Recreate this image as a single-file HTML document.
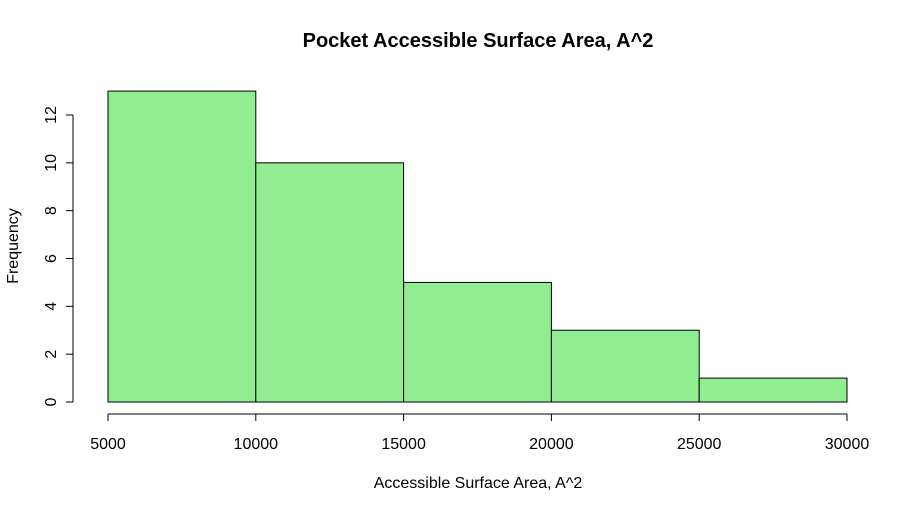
<!DOCTYPE html>
<html><head><meta charset="utf-8"><style>body{margin:0;background:#fff}svg{display:block;font-family:"Liberation Sans",sans-serif}</style></head>
<body>
<svg id="chart" width="917" height="513" viewBox="0 0 917 513">
<rect width="917" height="513" fill="#fff"/>
<text x="478" y="47" text-anchor="middle" font-size="20" font-weight="bold">Pocket Accessible Surface Area, A^2</text>
<text x="478" y="488" text-anchor="middle" font-size="16">Accessible Surface Area, A^2</text>
<text transform="translate(18,246) rotate(-90)" text-anchor="middle" font-size="16">Frequency</text>
<g id="bars"></g><g id="xaxis"></g><g id="yaxis"></g>
</svg>
<script>
const binEdges=[5000,10000,15000,20000,25000,30000];
const counts=[13,10,5,3,1];
const xTicks=[5000,10000,15000,20000,25000,30000];
const yTicks=[0,2,4,6,8,10,12];
const NS="http://www.w3.org/2000/svg";
const xs=v=>108+(v-5000)*(847-108)/25000;
const ys=v=>402-v*(402-115)/12;
function mk(t,a,p){const e=document.createElementNS(NS,t);for(const k in a)e.setAttribute(k,a[k]);p.appendChild(e);return e;}
const bars=document.getElementById('bars');
counts.forEach((c,i)=>{const r=mk('rect',{x:xs(binEdges[i]),y:ys(c),width:xs(binEdges[i+1])-xs(binEdges[i]),height:ys(0)-ys(c),fill:'#90EE90',stroke:'#000','stroke-width':1},bars);

});
const xa=document.getElementById('xaxis');
mk('line',{x1:xs(xTicks[0]),x2:xs(xTicks[xTicks.length-1]),y1:414,y2:414,stroke:'#000'},xa);
xTicks.forEach(t=>{mk('line',{x1:xs(t),x2:xs(t),y1:414,y2:421,stroke:'#000'},xa);
const l=mk('text',{x:xs(t),y:449,'text-anchor':'middle','font-size':16},xa);l.textContent=t;

});
const ya=document.getElementById('yaxis');
mk('line',{x1:73,x2:73,y1:ys(yTicks[0]),y2:ys(yTicks[yTicks.length-1]),stroke:'#000'},ya);
yTicks.forEach(t=>{mk('line',{x1:66,x2:73,y1:ys(t),y2:ys(t),stroke:'#000'},ya);
const l=mk('text',{transform:`translate(56,${ys(t)}) rotate(-90)`,'text-anchor':'middle','font-size':16},ya);l.textContent=t;

});
</script>
</body></html>
